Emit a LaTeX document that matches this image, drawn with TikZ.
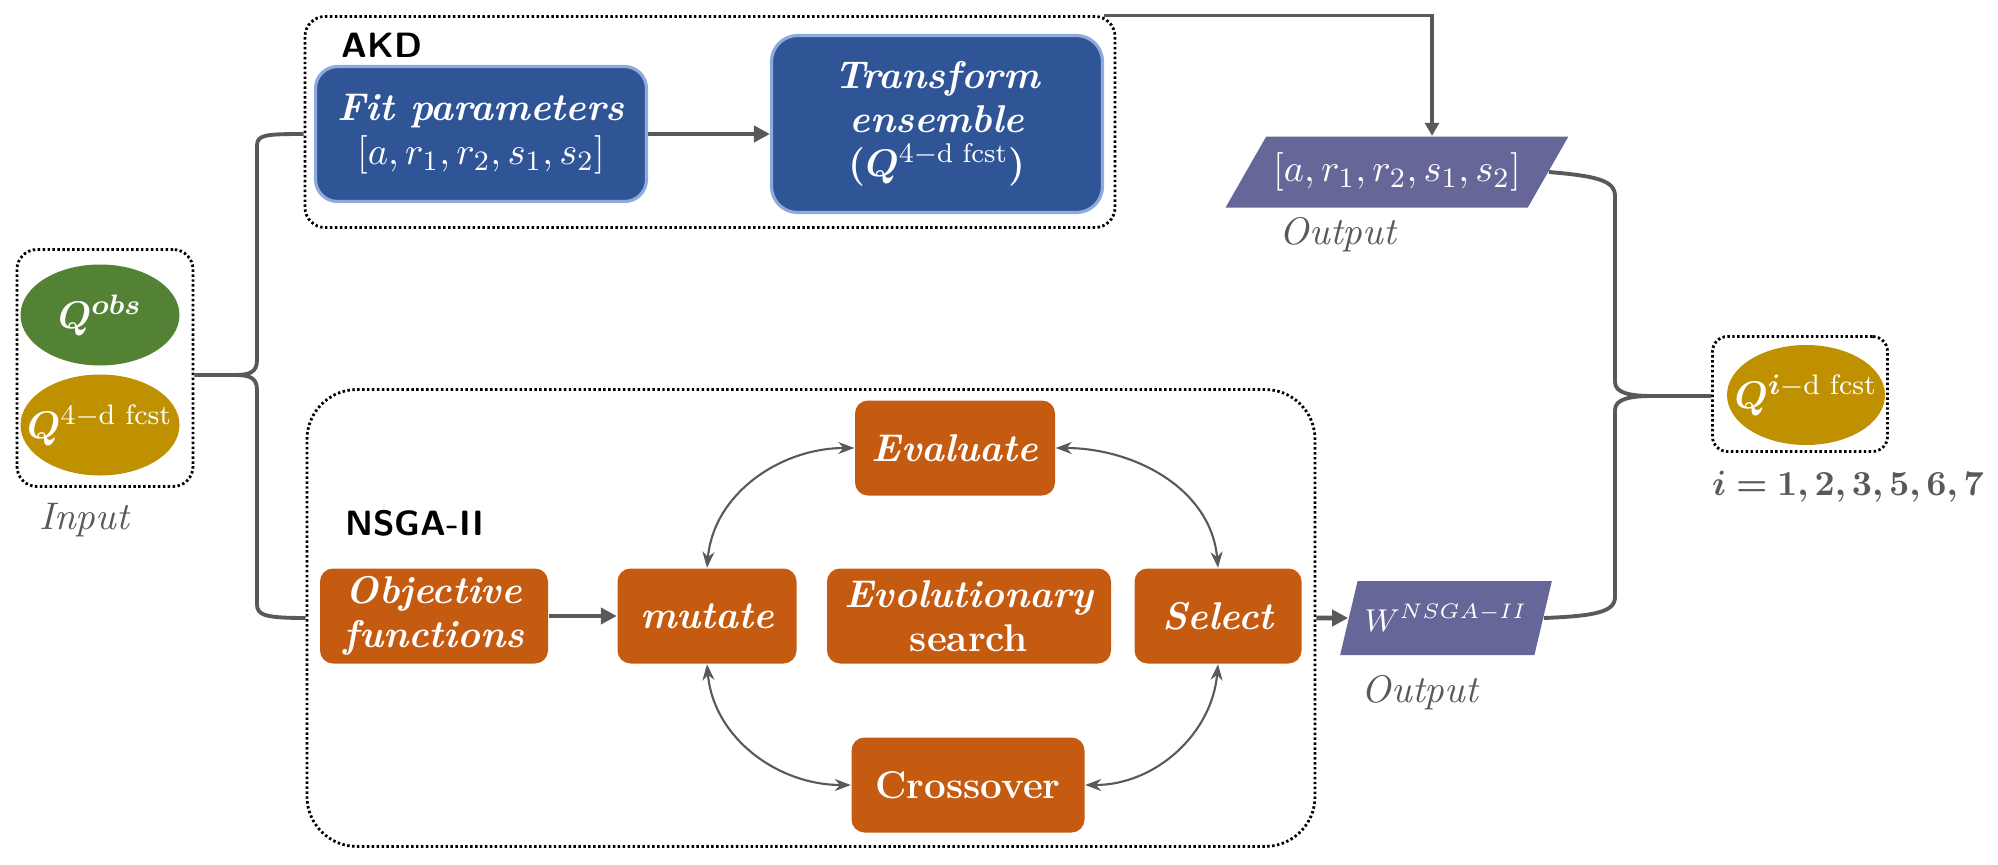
\documentclass[tikz,border=0pt,11pt]{standalone}
\usepackage{amsmath}
\usepackage{bm}
\usepackage{tikz}
\usetikzlibrary{
    calc,
    arrows.meta,
    shapes.geometric
}
\definecolor{akdblue}{HTML}{2F5597}
\definecolor{akdedge}{HTML}{8FAADC}
\definecolor{gaorange}{HTML}{C55A11}
\definecolor{obsgreen}{HTML}{548235}
\definecolor{fcstgold}{HTML}{BF9000}
\definecolor{outviolet}{HTML}{666699}
\definecolor{linegray}{HTML}{595959}
\tikzset{
    dotframe/.style={draw=black, line width=0.8pt, dash pattern=on 0.7pt off 0.7pt, rounded corners=2mm, inner sep=0pt},
    akdstep/.style={fill=akdblue, draw=akdedge, line width=0.9pt, rounded corners=2.2mm, text=white, align=center, inner sep=0pt,
        font=\fontsize{11}{12.5}\selectfont\bfseries\itshape},
    gastep/.style={fill=gaorange, rounded corners=1.3mm, text=white, align=center, inner sep=0pt, minimum height=9.5mm,
        font=\fontsize{11}{12.5}\selectfont\bfseries\itshape},
    series/.style={ellipse, text=white, inner xsep=-4mm, inner ysep=-1mm, minimum width=15.9mm, minimum height=10.1mm},
    result/.style={trapezium, trapezium stretches=true, fill=outviolet, text=white, inner sep=0pt},
    ionote/.style={text=linegray, font=\itshape},
    grouplabel/.style={anchor=west, font=\sffamily\bfseries\small},
    flow/.style={draw=linegray, line width=1.3pt, -{Triangle[length=1.6mm,width=1.6mm]}},
    brace/.style={draw=linegray, line width=1.1pt},
    evoloop/.style={draw=linegray, line width=0.6pt, {Stealth[length=1.6mm,width=1.2mm]}-{Stealth[length=1.6mm,width=1.2mm]}},
}
\begin{document}
\begin{tikzpicture}[x=0.1mm,y=0.1mm]
    \useasboundingbox (0,0) rectangle (1998,-865);
    % AKD
    \node[dotframe, minimum width=81mm, minimum height=21.1mm] (akd) at (710,-122) {};
    \node[grouplabel] (akdlabel) at (328,-45) {AKD};
    \node[akdstep, minimum width=33.1mm, minimum height=13.5mm] (fit) at (481,-134) {Fit parameters\\ $[a,r_1,r_2,s_1,s_2]$};
    \node[akdstep, rounded corners=2.6mm, minimum width=33.1mm, minimum height=17.7mm] (trans) at (937,-124)
        {Transform\\ ensemble\\ \textup{\textbf{(}}$\bm{Q}^{4-\textnormal{d fcst}}$\textup{\textbf{)}}};
    % input
    \node[dotframe, minimum width=17.6mm, minimum height=23.7mm] (input) at (105,-368) {};
    \node[series, fill=obsgreen] (obs) at (100,-315) {$\bm{Q^{obs}}$};
    \node[series, fill=fcstgold] (fcst) at (100,-425) {$\bm{Q}^{4-\textnormal{d fcst}}$};
    \node[ionote] (inlabel) at (84,-520) {Input};
    % NSGA-II
    \node[dotframe, rounded corners=5mm, minimum width=100.8mm, minimum height=45.7mm] (nsga) at (811,-618) {};
    \node[grouplabel] (nsgalabel) at (332,-523) {NSGA-II};
    \node[gastep, minimum width=22.8mm] (obj) at (434,-616) {Objective\\ functions};
    \node[gastep, minimum width=17.9mm] (mut) at (707,-616) {mutate};
    \node[gastep, minimum width=28.4mm] (evo) at (969,-616) {Evolutionary\\ \upshape search};
    \node[gastep, minimum width=16.7mm] (sel) at (1218,-616) {Select};
    \node[gastep, minimum width=20mm] (eva) at (955,-448) {Evaluate};
    \node[gastep, minimum width=23.3mm, font=\fontsize{11}{12.5}\selectfont\bfseries] (cro) at (968,-785) {Crossover};
    % outputs
    \node[result, trapezium left angle=45, trapezium right angle=135, minimum width=34.4mm, minimum height=7.1mm] (param)
        at (1397,-172) {$[a,r_1,r_2,s_1,s_2]$};
    \node[ionote] (paramlabel) at (1338,-235) {Output};
    \node[result, trapezium left angle=60, trapezium right angle=120, minimum width=21.2mm, minimum height=7.4mm,
        font=\fontsize{9}{11}\selectfont] (wout) at (1446,-618) {$W^{NSGA-II}$};
    \node[ionote] (wlabel) at (1420,-693) {Output};
    \node[dotframe, rounded corners=1.5mm, minimum width=17.5mm, minimum height=11.5mm] (qbox) at (1800,-394) {};
    \node[series, fill=fcstgold, minimum width=15.8mm, minimum height=10mm] (qi) at (1806,-395) {$\bm{Q}^{\bm{i}-\textnormal{d fcst}}$};
    \node[text=linegray, font=\fontsize{10}{12}\selectfont] (ilist) at (1848,-487) {$\bm{i=1,2,3,5,6,7}$};
    % connectors
    \draw[flow] (fit.east) -- (fit.east -| trans.west);
    \draw[flow] (obj) -- (mut);
    \draw[flow] (nsga.east) -- (wout.west);
    \draw[draw=linegray, line width=0.9pt, -{Triangle[length=1.3mm,width=1.4mm]}]
        ([xshift=-1.2mm]akd.north east) -| ([xshift=3.5mm]param.north);
    \draw[evoloop] (mut.north) to[out=85,in=180] (eva.west);
    \draw[evoloop] (eva.east) to[out=0,in=95] (sel.north);
    \draw[evoloop] (mut.south) to[out=-85,in=180] (cro.west);
    \draw[evoloop] (sel.south) to[out=-95,in=0] (cro.east);
    % braces
    \coordinate (intip) at (235,-375);
    \draw[brace] (input.east |- intip) -- (intip) .. controls (250,-375) and (257,-372) .. (257,-360)
        -- (257,-146) .. controls (257,-135) and (264,-134) .. (akd.west |- fit.west);
    \draw[brace] (intip) .. controls (250,-375) and (257,-378) .. (257,-390)
        -- (257,-604) .. controls (257,-615) and (264,-618) .. (nsga.west);
    \coordinate (outtip) at (1652,-396);
    \draw[brace] (param.east) .. controls (1595,-176) and (1615,-180) .. (1615,-196)
        -- (1615,-382) .. controls (1615,-393) and (1630,-396) .. (outtip) -- (qbox.west |- outtip);
    \draw[brace] (wout.east) .. controls (1595,-616) and (1615,-612) .. (1615,-597)
        -- (1615,-410) .. controls (1615,-399) and (1630,-396) .. (outtip);
\end{tikzpicture}
\end{document}
